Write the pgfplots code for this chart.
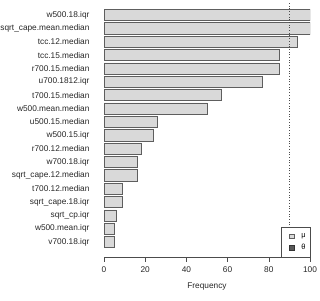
\documentclass[border=0pt]{standalone}
\usepackage{fontspec}
\setmainfont{Liberation Sans}
\usepackage{pgfplots}
\pgfplotsset{compat=1.18}
\definecolor{barfill}{HTML}{D9D9D9}
\definecolor{bardraw}{HTML}{5E5E5E}
\definecolor{darkfill}{HTML}{595959}
\begin{document}
\begin{tikzpicture}
\useasboundingbox (0pt,0pt) rectangle (320pt,-300pt);
\begin{axis}[
  at={(104pt,-257.5pt)}, anchor=south west,
  scale only axis, width=206pt, height=254.5pt,
  xmin=0, xmax=100, ymin=-1.145, ymax=17.9,
  axis x line*=bottom, axis y line*=left,
  y axis line style={draw=none},
  ytick style={draw=none},
  x axis line style={black!70, line width=0.6pt},
  xtick style={black!70, line width=0.6pt},
  tick align=outside, major tick length=4pt,
  xtick={0,20,40,60,80,100},
  ytick={0,...,17},
  yticklabels={v700.18.iqr, w500.mean.iqr, sqrt\_cp.iqr, sqrt\_cape.18.iqr, t700.12.median, sqrt\_cape.12.median, w700.18.iqr, r700.12.median, w500.15.iqr, u500.15.median, w500.mean.median, t700.15.median, u700.1812.iqr, r700.15.median, tcc.15.median, tcc.12.median, sqrt\_cape.mean.median, w500.18.iqr},
  ticklabel style={font=\fontsize{8.3}{10}\selectfont, text=black!85},
  yticklabel style={xshift=-7pt},
  xticklabel style={yshift=-2pt},
  /pgf/number format/assume math mode=true,
  xlabel={Frequency},
  xlabel style={font=\fontsize{8.3}{10}\selectfont, text=black!85, yshift=-3pt},
  legend style={at={(1,0)}, anchor=south east, draw=black!70, fill=white,
    font=\fontsize{7.5}{9}\selectfont, inner xsep=2pt, inner ysep=4pt, row sep=1.5pt,
    cells={anchor=west}},
]
\addplot[xbar, bar width=11.2pt, fill=barfill, draw=bardraw, line width=0.7pt,
  legend image code/.code={\path[draw=none, fill=none] (0pt,0pt) -- (16pt,0pt); \draw[fill=barfill, draw=bardraw, line width=0.6pt] (5.5pt,-2.3pt) rectangle (11pt,2.3pt);}]
  coordinates {(5,0) (5,1) (6,2) (9,3) (9,4) (16,5) (16,6) (18,7) (24,8) (26,9) (50,10) (57,11) (77,12) (85,13) (85,14) (94,15) (100,16) (100,17)};
\addlegendentry{μ}
\addlegendimage{legend image code/.code={\path[draw=none, fill=none] (0pt,0pt) -- (16pt,0pt); \draw[fill=darkfill, draw=black!80, line width=0.6pt] (5.5pt,-2.3pt) rectangle (11pt,2.3pt);}}
\addlegendentry{θ}
\addplot[black!70, dotted, line width=0.7pt, forget plot] coordinates {(90,-1.145) (90,17.9)};
\end{axis}
\end{tikzpicture}
\end{document}
